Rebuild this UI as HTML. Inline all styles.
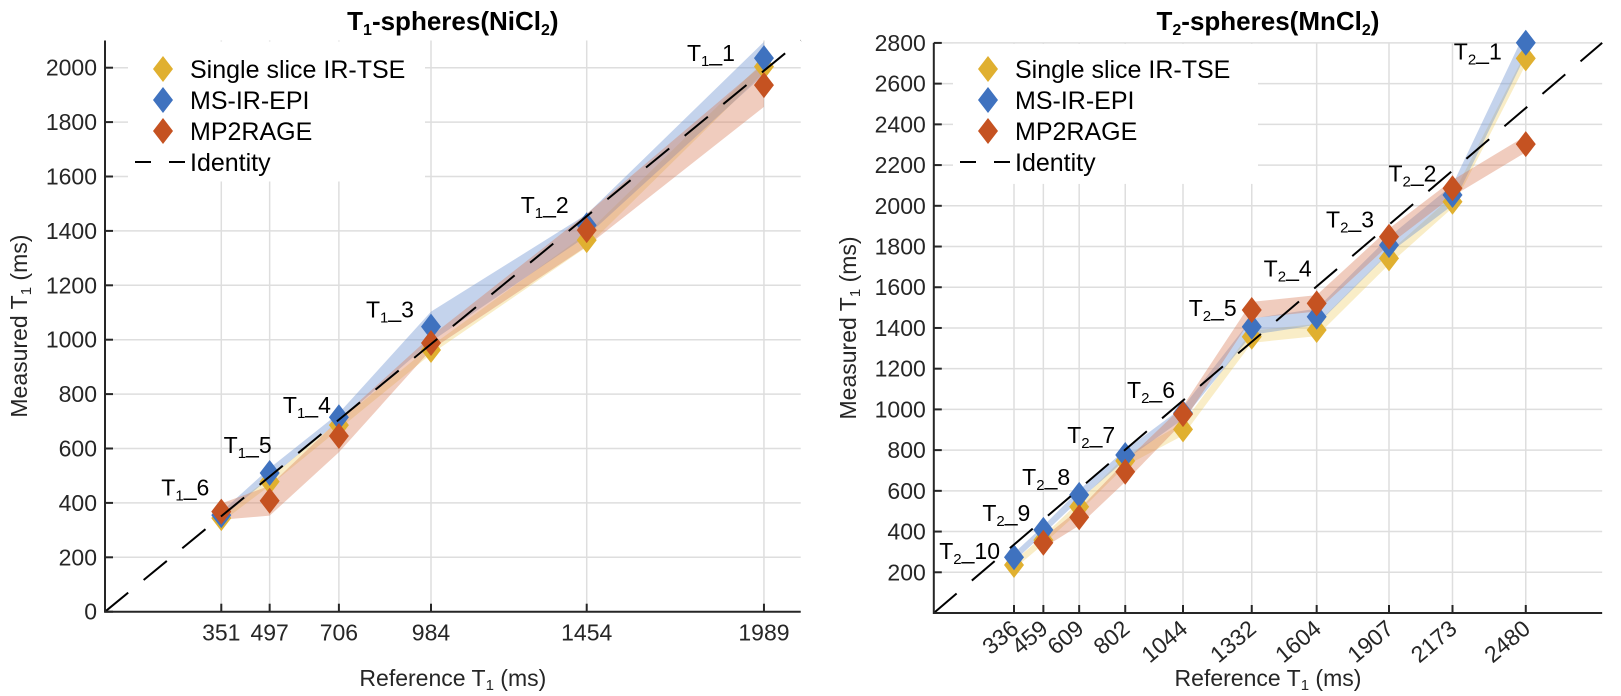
<!DOCTYPE html>
<html><head><meta charset="utf-8"><style>
html,body{margin:0;padding:0;background:#fff;}
svg{display:block;font-family:"Liberation Sans",Arial,sans-serif;}
</style></head><body>
<svg id="svg" width="1621" height="696" viewBox="0 0 1621 696" xmlns="http://www.w3.org/2000/svg"></svg>
<script>
// ---- Left chart data (T1 spheres) ----
const t1Refs = [351, 497, 706, 984, 1454, 1989];
const t1Names = ["6","5","4","3","2","1"];
const t1Tse = [344, 478, 686, 962, 1366, 2004];
const t1Epi = [355, 510, 715, 1048, 1421, 2035];
const t1Mp2 = [368, 408, 646, 988, 1403, 1936];
const t1TseSd = [15, 15, 15, 15, 25, 20];
const t1EpiSd = [12, 18, 15, 55, 40, 60];
const t1Mp2Sd = [30, 55, 60, 25, 60, 80];
const t1YTicks = [0,200,400,600,800,1000,1200,1400,1600,1800,2000];
// ---- Right chart data (T2 spheres) ----
const t2Refs = [336, 459, 609, 802, 1044, 1332, 1604, 1907, 2173, 2480];
const t2Names = ["10","9","8","7","6","5","4","3","2","1"];
const t2Tse = [236, 358, 522, 747, 902, 1357, 1390, 1742, 2020, 2724];
const t2Epi = [274, 408, 580, 776, 982, 1406, 1455, 1807, 2053, 2801];
const t2Mp2 = [null, 345, 470, 694, 977, 1488, 1521, 1848, 2086, 2303];
const t2TseSd = [20, 20, 25, 25, 30, 30, 30, 30, 30, 30];
const t2EpiSd = [20, 20, 25, 25, 30, 40, 40, 40, 50, 60];
const t2Mp2Sd = [null, 25, 40, 50, 40, 40, 40, 40, 40, 40];
const t2YTicks = [200,400,600,800,1000,1200,1400,1600,1800,2000,2200,2400,2600,2800];

const NS = "http://www.w3.org/2000/svg";
const svg = document.getElementById('svg');
function el(tag, attrs, parent){ const e=document.createElementNS(NS,tag); for(const k in attrs) e.setAttribute(k,attrs[k]); (parent||svg).appendChild(e); return e; }

const COL = {tse:"#e0b030", epi:"#3f72bf", mp2:"#c55221"};
const BAND = {tse:"rgba(237,200,80,0.32)", epi:"rgba(114,150,210,0.42)", mp2:"rgba(215,120,85,0.38)"};

function drawChart(cfg){
  const g = el('g',{});
  
  
  const X = v => cfg.x0 + v*cfg.xs;
  const Y = v => cfg.y0 - v*cfg.ys;
  const L = cfg.x0, R = X(cfg.xmax), T = Y(cfg.ymax), B = cfg.y0;
  cfg.yTicks.forEach(v=>{
    const l = el('line',{x1:L,x2:R,y1:Y(v),y2:Y(v),stroke:"#dedede","stroke-width":1.5},g);
    
    
  });
  cfg.refs.forEach(v=>{
    const l = el('line',{x1:X(v),x2:X(v),y1:T,y2:B,stroke:"#dedede","stroke-width":1.5},g);
    
    
  });
  const lb = el('rect',{x:cfg.legX,y:T+1,width:cfg.legW,height:140,fill:"#fff"},g);
  
  
  const series = [["tse",cfg.tse,cfg.tseSd],["epi",cfg.epi,cfg.epiSd],["mp2",cfg.mp2,cfg.mp2Sd]];
  series.forEach(([k,vals,sd])=>{
    const up=[],dn=[];
    vals.forEach((v,i)=>{ if(v==null) return; up.push(X(cfg.refs[i])+","+Y(v+sd[i])); dn.unshift(X(cfg.refs[i])+","+Y(v-sd[i])); });
    const p = el('polygon',{points:up.concat(dn).join(" "),fill:BAND[k]},g);
    
    
  });
  series.forEach(([k,vals])=>{
    vals.forEach((v,i)=>{
      if(v==null) return;
      const cx=X(cfg.refs[i]), cy=Y(v);
      const d = el('polygon',{points:`${cx},${cy-13} ${cx+10},${cy} ${cx},${cy+13} ${cx-10},${cy}`,fill:COL[k]},g);
      
      
    });
  });
  const id = el('line',{x1:X(0),y1:Y(0),x2:X(cfg.xmax),y2:Y(cfg.xmax),stroke:"#000","stroke-width":2,"stroke-dasharray":"30 20"},g);
  
  
  cfg.refs.forEach((r,i)=>{
    const mx = Math.max(cfg.tse[i], cfg.epi[i], cfg.mp2[i]==null?0:cfg.mp2[i]);
    const t = el('text',{x:X(r)+cfg.ldx[i], y:Y(mx)+cfg.ldy[i]+8, "text-anchor":"end","font-size":23,fill:"#000"},g);
    
    
    t.innerHTML = `T<tspan font-size="15" dy="5">${cfg.sub}</tspan><tspan dy="-5">_${cfg.names[i]}</tspan>`;
  });
  const ax = el('path',{d:`M${L},${T} L${L},${B} L${R},${B}`,stroke:"#262626","stroke-width":2,fill:"none"},g);
  
  
  cfg.yTicks.forEach(v=>{
    el('line',{x1:L,x2:L+8,y1:Y(v),y2:Y(v),stroke:"#262626","stroke-width":2},g);
    const t = el('text',{x:L-8,y:Y(v)+8,"text-anchor":"end","font-size":23,fill:"#262626"},g);
    
    
    t.textContent = v;
  });
  cfg.refs.forEach(v=>{
    el('line',{x1:X(v),x2:X(v),y1:B,y2:B-8,stroke:"#262626","stroke-width":2},g);
    let t;
    if(cfg.rot){
      t = el('text',{x:X(v)+6,y:B+18,"text-anchor":"end","font-size":23,fill:"#262626",transform:`rotate(-40 ${X(v)+6} ${B+18})`},g);
    } else {
      t = el('text',{x:X(v),y:B+29,"text-anchor":"middle","font-size":23,fill:"#262626"},g);
    }
    
    
    t.textContent = v;
  });
  const cx=(L+R)/2, cy=(T+B)/2;
  const xt = el('text',{x:cx,y:686,"text-anchor":"middle","font-size":23,fill:"#262626"},g);
  
  
  xt.innerHTML = `Reference T<tspan font-size="15" dy="4">1</tspan><tspan dy="-4"> (ms)</tspan>`;
  const yt = el('text',{x:L-86,y:cy,"text-anchor":"middle","font-size":23,fill:"#262626",transform:`rotate(-90 ${L-86} ${cy}) translate(0 8)`},g);
  
  
  yt.innerHTML = `Measured T<tspan font-size="15" dy="4">1</tspan><tspan dy="-4"> (ms)</tspan>`;
  const tt = el('text',{x:cx,y:30,"text-anchor":"middle","font-size":26,"font-weight":"bold",fill:"#000"},g);
  
  
  tt.innerHTML = `T<tspan font-size="16" dy="5">${cfg.sub}</tspan><tspan dy="-5">-spheres(${cfg.salt}</tspan><tspan font-size="16" dy="5">2</tspan><tspan dy="-5">)</tspan>`;
  const entries=[["tse","Single slice IR-TSE",69],["epi","MS-IR-EPI",100],["mp2","MP2RAGE",131]];
  entries.forEach(([k,lab,y])=>{
    const mx = cfg.legMk;
    const d = el('polygon',{points:`${mx},${y-13} ${mx+10},${y} ${mx},${y+13} ${mx-10},${y}`,fill:COL[k]},g);
    
    
    const t = el('text',{x:mx+27,y:y+9,"font-size":25,fill:"#000"},g);
    
    
    t.textContent = lab;
  });
  const dl = el('line',{x1:cfg.legMk-28,x2:cfg.legMk+25,y1:162,y2:162,stroke:"#000","stroke-width":2,"stroke-dasharray":"16 18"},g);
  
  
  const it = el('text',{x:cfg.legMk+27,y:171,"font-size":25,fill:"#000"},g);
  
  
  it.textContent = "Identity";
}

drawChart({name:"t1-chart", x0:105, xs:0.3313, y0:611.7, ys:0.272, xmax:2100, ymax:2100,
  refs:t1Refs, names:t1Names, sub:"1", salt:"NiCl",
  tse:t1Tse, epi:t1Epi, mp2:t1Mp2, tseSd:t1TseSd, epiSd:t1EpiSd, mp2Sd:t1Mp2Sd,
  yTicks:t1YTicks, rot:false, legX:128, legW:297, legMk:163,
  ldx:[-12,2,-8,-17,-18,-29], ldy:[-24,-28,-12,-17,-20,-5]});
drawChart({name:"t2-chart", x0:933.8, xs:0.2387, y0:613, ys:0.2036, xmax:2800, ymax:2800,
  refs:t2Refs, names:t2Names, sub:"2", salt:"MnCl",
  tse:t2Tse, epi:t2Epi, mp2:t2Mp2, tseSd:t2TseSd, epiSd:t2EpiSd, mp2Sd:t2Mp2Sd,
  yTicks:t2YTicks, rot:true, legX:953, legW:305, legMk:988,
  ldx:[-14,-13,-9,-10,-8,-15,-5,-15,-16,-24], ldy:[-6,-17,-18,-20,-23,-2,-35,-17,-15,9]});
</script>
</body></html>
